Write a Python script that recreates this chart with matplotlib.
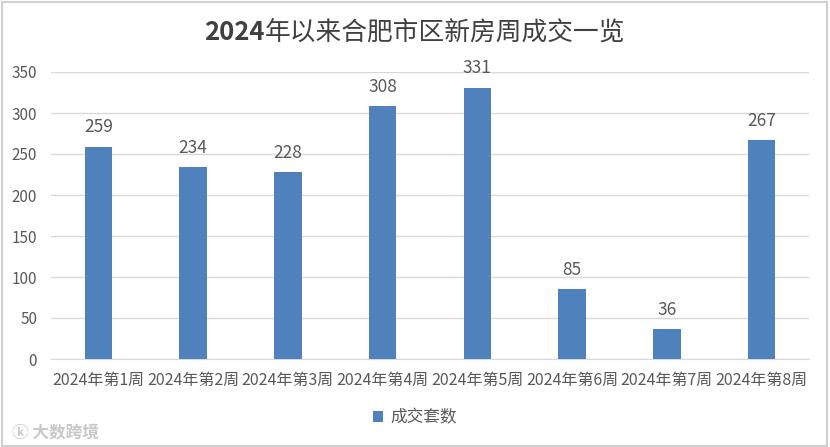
import matplotlib

matplotlib.use("Agg")
import matplotlib.pyplot as plt  # noqa: E402
from matplotlib.patches import Rectangle  # noqa: E402

plt.rcParams["font.family"] = ["Noto Sans CJK SC", "DejaVu Sans"]

# data
weeks = ["2024年第1周", "2024年第2周", "2024年第3周", "2024年第4周",
         "2024年第5周", "2024年第6周", "2024年第7周", "2024年第8周"]
deals = [259, 234, 228, 308, 331, 85, 36, 267]
y_ticks = [0, 50, 100, 150, 200, 250, 300, 350]
series_name = "成交套数"
title_year = "2024"
title_rest = "年以来合肥市区新房周成交一览"

BAR_COLOR = "#4F81BD"
TEXT_COLOR = "#595959"
GRID_COLOR = "#D9D9D9"

fig = plt.figure(figsize=(8.30, 4.47), dpi=100)
ax = fig.add_axes([51 / 830, 1 - 359 / 447, (809 - 51) / 830, (359 - 72) / 447])

xs = list(range(len(weeks)))
bars = ax.bar(xs, deals, width=0.29, color=BAR_COLOR, zorder=3, label=series_name)
for x, v in zip(xs, deals):
    ax.annotate(str(v), (x, v), xytext=(0, 7.5), textcoords="offset points",
                ha="center", va="bottom", fontsize=12.5, color=TEXT_COLOR)

ax.set_xlim(-0.5, len(weeks) - 0.5)
ax.set_ylim(0, 350)
ax.set_yticks(y_ticks)
ax.set_yticklabels([str(t) for t in y_ticks], fontsize=11, color=TEXT_COLOR)
ax.set_xticks(xs)
ax.set_xticklabels(weeks, fontsize=11.5, color=TEXT_COLOR)
ax.tick_params(axis="both", length=0)
ax.tick_params(axis="y", pad=10)
ax.tick_params(axis="x", pad=9)
ax.grid(axis="y", color=GRID_COLOR, linewidth=1, zorder=0)
for side in ("top", "right", "left"):
    ax.spines[side].set_visible(False)
ax.spines["bottom"].set_color(GRID_COLOR)

# title: bold year, regular rest
t1 = fig.text(0.5, 1 - 33 / 447, title_year, ha="right", va="center",
              fontsize=18.5, fontweight="bold", color="#404040")
fig.canvas.draw()
r = fig.canvas.get_renderer()
w1 = t1.get_window_extent(r).width
t2 = fig.text(0.5, 1 - 33 / 447, title_rest, ha="left", va="center",
              fontsize=18.5, color="#404040")
w2 = t2.get_window_extent(r).width
shift = (w1 - w2) / 2 / fig.bbox.width
t1.set_x(0.5 + shift)
t2.set_x(0.5 + shift)

leg = fig.legend(handles=[bars], labels=[series_name], loc="center",
                 bbox_to_anchor=(0.5, 1 - 418 / 447), frameon=False,
                 fontsize=12, handlelength=0.6, handleheight=0.6,
                 handletextpad=0.5)
for txt in leg.get_texts():
    txt.set_color(TEXT_COLOR)

# watermark
fig.text(12 / 830, 1 - 432 / 447, "ⓚ 大数跨境", fontsize=12, color="#C8C8C8",
         ha="left", va="center", fontweight="bold",
         family=["Noto Sans CJK SC", "DejaVu Sans"])

# outer frame
fig.patches.append(Rectangle((0.002, 0.003), 0.994, 0.992, transform=fig.transFigure,
                             fill=False, edgecolor="#D0D0D0", linewidth=1.5))

fig.savefig("out.png", dpi=100)
plt.close(fig)
